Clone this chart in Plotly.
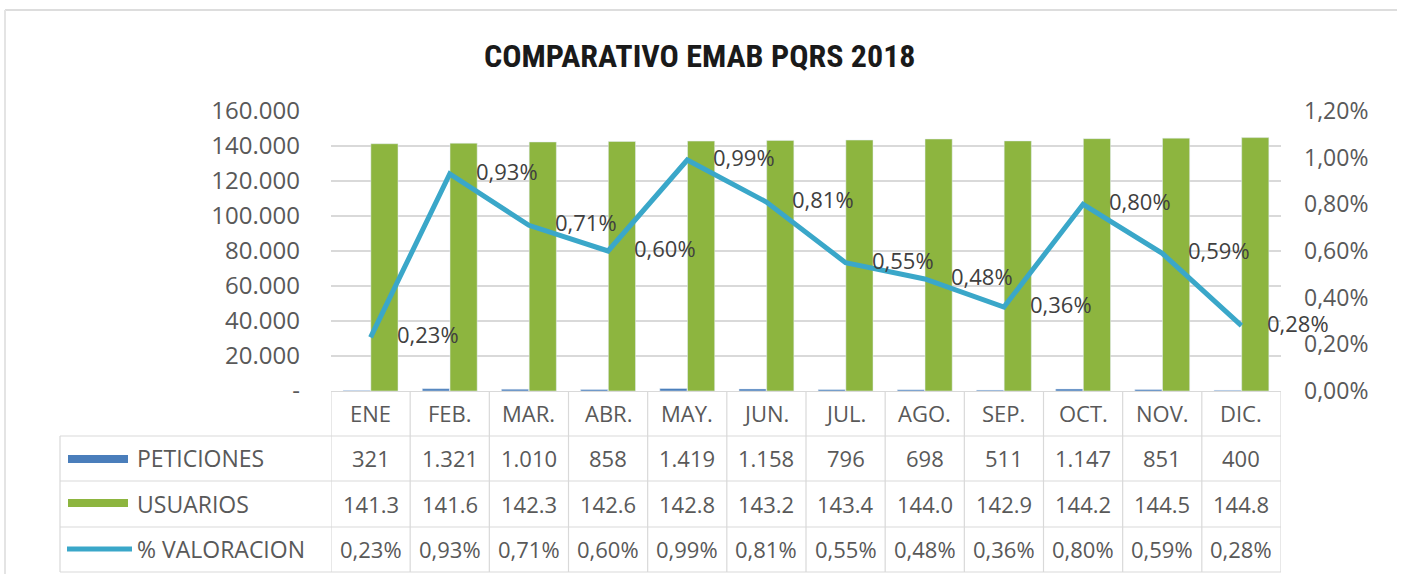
import plotly.graph_objects as go

# ---- data ----
meses = ["ENE", "FEB.", "MAR.", "ABR.", "MAY.", "JUN.", "JUL.", "AGO.", "SEP.", "OCT.", "NOV.", "DIC."]
peticiones = [321, 1321, 1010, 858, 1419, 1158, 796, 698, 511, 1147, 851, 400]
usuarios = [141300, 141600, 142300, 142600, 142800, 143200, 143400, 144000, 142900, 144200, 144500, 144800]
valoracion = [0.23, 0.93, 0.71, 0.60, 0.99, 0.81, 0.55, 0.48, 0.36, 0.80, 0.59, 0.28]
ticks_izq = [0, 20000, 40000, 60000, 80000, 100000, 120000, 140000, 160000]
ticks_der = [0.0, 0.2, 0.4, 0.6, 0.8, 1.0, 1.2]
series = ["PETICIONES", "USUARIOS", "% VALORACION"]
titulo = "COMPARATIVO EMAB PQRS 2018"


def miles(v):
    return "-" if v == 0 else f"{v:,}".replace(",", ".")


def pct(v):
    return f"{v:.2f}%".replace(".", ",")


def usu(v):
    return f"{v / 1000:.1f}"


# ---- geometry (pixels) ----
W, H = 1403, 574
ML, MR, MT, MB = 331, 122, 111, 183
PW, PH = W - ML - MR, H - MT - MB


def px(p):
    return (p - ML) / PW


def py(p):
    return (H - MB - p) / PH


GRIS = "#595959"
LINEA = "#D9D9D9"
AZUL = "#4A7EBB"
VERDE = "#8DB53F"
CIAN = "#3AA7C9"
FONT = "Open Sans"

fig = go.Figure()
fig.add_trace(go.Bar(x=meses, y=peticiones, name=series[0], marker_color=AZUL))
fig.add_trace(go.Bar(x=meses, y=usuarios, name=series[1], marker_color=VERDE))
fig.add_trace(go.Scatter(x=meses, y=valoracion, name=series[2], yaxis="y2",
                         mode="lines", line=dict(color=CIAN, width=5)))

ann = []
# line data labels, placed to the right of each point
for m, v in zip(meses, valoracion):
    ann.append(dict(x=m, y=v, xref="x", yref="y2", text=pct(v), showarrow=False,
                    xanchor="left", yanchor="middle", xshift=24, yshift=3,
                    font=dict(family=FONT, size=22, color="#404040")))

# data table
row_y = [413, 458, 504, 549]
for i, m in enumerate(meses):
    ann.append(dict(x=m, y=py(row_y[0]), xref="x", yref="paper", text=m, showarrow=False,
                    yanchor="middle", font=dict(family=FONT, size=22, color=GRIS)))
    for r, txt in enumerate([miles(peticiones[i]), usu(usuarios[i]), pct(valoracion[i])]):
        ann.append(dict(x=m, y=py(row_y[r + 1]), xref="x", yref="paper", text=txt,
                        showarrow=False, yanchor="middle",
                        font=dict(family=FONT, size=22, color=GRIS)))

for r, name in enumerate(series):
    ann.append(dict(x=px(135), y=py(row_y[r + 1]), xref="paper", yref="paper", text=name,
                    showarrow=False, xanchor="left", yanchor="middle",
                    font=dict(family=FONT, size=23, color=GRIS)))

ann.append(dict(x=px(699), y=py(56), xref="paper", yref="paper", text=f"<b>{titulo}</b>",
                showarrow=False, xanchor="center", yanchor="middle",
                font=dict(family="Liberation Sans Narrow, Arial Narrow, Roboto Condensed, Roboto",
                          size=32, color="#1A1A1A")))

shapes = []
# horizontal table rules
for y in [436, 481, 527, 572]:
    shapes.append(dict(type="line", xref="paper", yref="paper", x0=px(60), x1=1,
                       y0=py(y), y1=py(y), line=dict(color=LINEA, width=1.2)))
# vertical table rules between month columns
for k in range(len(meses) + 1):
    shapes.append(dict(type="line", xref="x", yref="paper", x0=k - 0.5, x1=k - 0.5,
                       y0=py(391), y1=py(572), line=dict(color=LINEA, width=1.2)))
shapes.append(dict(type="line", xref="paper", yref="paper", x0=px(60), x1=px(60),
                   y0=py(436), y1=py(572), line=dict(color=LINEA, width=1.2)))
# legend keys inside the table
shapes.append(dict(type="rect", xref="paper", yref="paper", x0=px(68), x1=px(128),
                   y0=py(463), y1=py(455), line_width=0, fillcolor=AZUL))
shapes.append(dict(type="rect", xref="paper", yref="paper", x0=px(68), x1=px(128),
                   y0=py(507), y1=py(499), line_width=0, fillcolor=VERDE))
shapes.append(dict(type="line", xref="paper", yref="paper", x0=px(67), x1=px(132),
                   y0=py(549), y1=py(549), line=dict(color=CIAN, width=5)))
# chart frame
shapes.append(dict(type="line", xref="paper", yref="paper", x0=px(5), x1=px(1397),
                   y0=py(10), y1=py(10), line=dict(color="#DDDDDD", width=2)))
shapes.append(dict(type="line", xref="paper", yref="paper", x0=px(5), x1=px(5),
                   y0=py(10), y1=py(580), line=dict(color="#E4E4E4", width=2)))

fig.update_layout(
    width=W, height=H,
    margin=dict(l=ML, r=MR, t=MT, b=MB),
    paper_bgcolor="white", plot_bgcolor="white",
    showlegend=False,
    barmode="group", bargap=0.3, bargroupgap=0.02,
    font=dict(family=FONT, color=GRIS),
    xaxis=dict(range=[-0.5, len(meses) - 0.5], showticklabels=False, showgrid=False,
               showline=True, linecolor=LINEA, linewidth=1.2, zeroline=False),
    yaxis=dict(range=[0, 160000], tickvals=ticks_izq, ticktext=[miles(v) for v in ticks_izq],
               showgrid=True, gridcolor=LINEA, gridwidth=1.5, zeroline=False,
               ticklabelstandoff=30, tickfont=dict(family=FONT, size=24, color=GRIS)),
    yaxis2=dict(range=[0, 1.2], overlaying="y", side="right", tickvals=ticks_der,
                ticktext=[pct(v) for v in ticks_der], showgrid=False, zeroline=False,
                ticklabelstandoff=22, tickfont=dict(family=FONT, size=23, color=GRIS)),
    annotations=ann,
    shapes=shapes,
)

fig.write_html("out.html")
